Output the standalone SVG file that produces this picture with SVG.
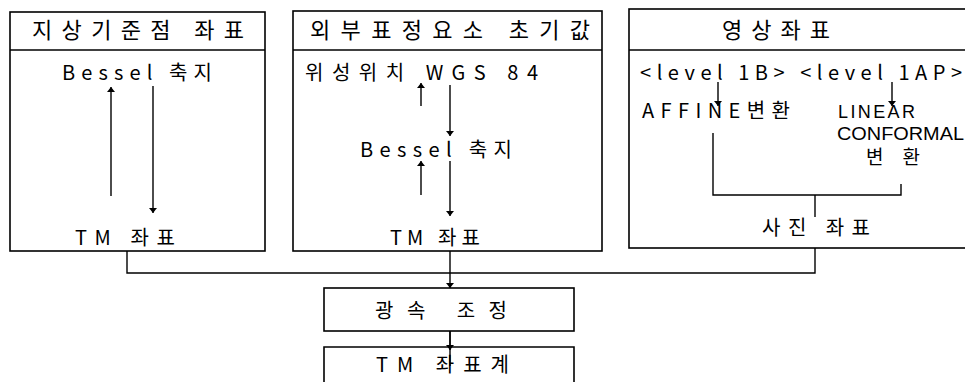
<svg xmlns="http://www.w3.org/2000/svg" width="965" height="382" viewBox="0 0 965 382">
<defs>
<marker id="ah" viewBox="0 0 10 10" refX="10" refY="5" markerWidth="5" markerHeight="8" markerUnits="userSpaceOnUse" orient="auto" preserveAspectRatio="none">
<path d="M0,0 L10,5 L0,10 Z" fill="#000"/>
</marker>
</defs>
<style>
.box{fill:none;stroke:#000;stroke-width:1.6}
.ln{fill:none;stroke:#000;stroke-width:1.4}
.arr{fill:none;stroke:#000;stroke-width:1.4;marker-end:url(#ah)}
.t{font-family:"Noto Sans CJK KR","DejaVu Sans",sans-serif;fill:#000;font-size:20px}
.h{font-size:22px}
.l{font-family:"Liberation Sans","Noto Sans CJK KR",sans-serif;font-size:18px;fill:#000}
</style>
<rect width="965" height="382" fill="#fff"/>
<g id="node-gcp">
<rect class="box" x="10" y="12" width="255" height="239"/>
<line class="box" x1="10" y1="50" x2="265" y2="50"/>
<text class="t h" x="32" y="38" textLength="212" lengthAdjust="spacing">지상기준점 좌표</text>
<text class="t" x="62" y="80" textLength="150" lengthAdjust="spacing">Bessel 축지</text>
<text class="t" x="75" y="245" textLength="100" lengthAdjust="spacing">TM 좌표</text>
</g>
<g id="node-eo">
<rect class="box" x="293" y="11" width="309" height="240"/>
<line class="box" x1="293" y1="50" x2="602" y2="50"/>
<text class="t h" x="310" y="38" textLength="280" lengthAdjust="spacing">외부표정요소 초기값</text>
<text class="t" x="305" y="80" textLength="233" lengthAdjust="spacing">위성위치 WGS 84</text>
<text class="t" x="360" y="157" textLength="152" lengthAdjust="spacing">Bessel 축지</text>
<text class="t" x="390" y="245" textLength="90" lengthAdjust="spacing">TM 좌표</text>
</g>
<g id="node-img">
<rect class="box" x="629" y="9" width="340" height="239"/>
<line class="box" x1="629" y1="50" x2="969" y2="50"/>
<text class="t h" x="722" y="38" textLength="108" lengthAdjust="spacing">영상좌표</text>
<text class="t" x="640" y="80" textLength="322" lengthAdjust="spacing">&lt;level 1B&gt; &lt;level 1AP&gt;</text>
<text class="t" x="642" y="118" textLength="148" lengthAdjust="spacing">AFFINE변환</text>
<text class="l" x="838" y="118" textLength="77" lengthAdjust="spacing">LINEAR</text>
<text class="l" x="837" y="140" textLength="127" lengthAdjust="spacingAndGlyphs">CONFORMAL</text>
<text class="t" x="866" y="164" textLength="54" lengthAdjust="spacing" style="font-size:19px">변환</text>
<text class="t" x="762" y="235" textLength="108" lengthAdjust="spacing">사진 좌표</text>
</g>
<g id="node-bundle">
<rect class="box" x="324" y="288" width="250" height="43"/>
<text class="t" x="375" y="318" textLength="132" lengthAdjust="spacing">광속  조정</text>
</g>
<g id="node-tm">
<path class="box" d="M324,390 V347 H574 V390"/>
<text class="t" x="376" y="372" textLength="133" lengthAdjust="spacing">TM  좌표계</text>
</g>
<g id="connectors">
<line class="arr" x1="111" y1="196" x2="111" y2="87"/>
<line class="arr" x1="153" y1="86" x2="153" y2="213"/>
<line class="arr" x1="421" y1="106" x2="421" y2="83"/>
<line class="arr" x1="450" y1="85" x2="450" y2="136"/>
<line class="arr" x1="421" y1="195" x2="421" y2="161"/>
<line class="arr" x1="450" y1="161" x2="450" y2="216"/>
<line class="arr" x1="718" y1="82" x2="718" y2="106"/>
<line class="arr" x1="892" y1="82" x2="892" y2="106"/>
<path class="ln" d="M713,133 V195 H901 V184"/>
<line class="ln" x1="815" y1="195" x2="815" y2="217"/>
<path class="ln" d="M127,251 V273 H815 V248"/>
<line class="arr" x1="450" y1="251" x2="450" y2="288"/>
<line class="ln" x1="450" y1="331" x2="450" y2="366"/>
<line class="arr" x1="450" y1="331" x2="450" y2="350"/>
</g>
</svg>
